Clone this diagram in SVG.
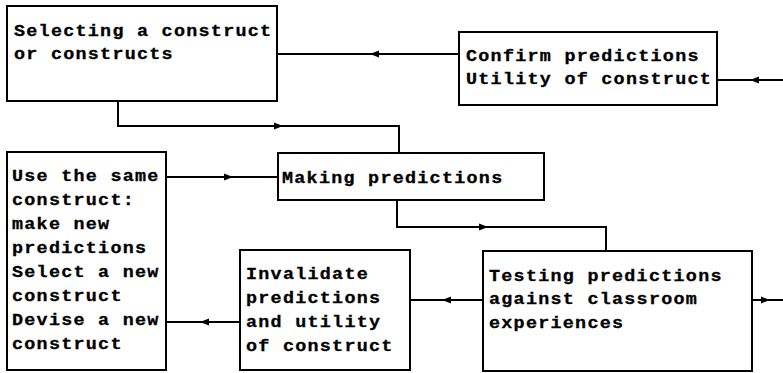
<svg xmlns="http://www.w3.org/2000/svg" width="783" height="373" viewBox="0 0 783 373">
<defs>
<style>
.box{fill:#fff;stroke:#000;stroke-width:2}
.ln{fill:none;stroke:#000;stroke-width:2}
.t{font-family:"Liberation Mono","DejaVu Sans Mono",monospace;font-weight:bold;font-size:16px;letter-spacing:1.1px;fill:#000;stroke:#000;stroke-width:0.3}
</style>
<marker id="arr" viewBox="0 0 9 8" refX="9" refY="4" markerWidth="9" markerHeight="8" markerUnits="userSpaceOnUse" orient="auto">
<path d="M0,0.5 L9,4 L0,7.5 z" fill="#000"/>
</marker>
</defs>
<rect width="783" height="373" fill="#fff"/>
<g id="connectors">
<path class="ln" d="M459,54 L370,54" marker-end="url(#arr)"/>
<path class="ln" d="M370,54 L277,54"/>
<path class="ln" d="M783,80 L750,80" marker-end="url(#arr)"/>
<path class="ln" d="M750,80 L717,80"/>
<path class="ln" d="M118,101 L118,126 L283,126" marker-end="url(#arr)"/>
<path class="ln" d="M283,126 L399,126 L399,153"/>
<path class="ln" d="M397,200 L397,227 L488,227" marker-end="url(#arr)"/>
<path class="ln" d="M488,227 L606,227 L606,251"/>
<path class="ln" d="M166,177 L233,177" marker-end="url(#arr)"/>
<path class="ln" d="M233,177 L278,177"/>
<path class="ln" d="M483,300 L442,300" marker-end="url(#arr)"/>
<path class="ln" d="M442,300 L410,300"/>
<path class="ln" d="M240,322 L200,322" marker-end="url(#arr)"/>
<path class="ln" d="M200,322 L166,322"/>
<path class="ln" d="M752,300 L770,300" marker-end="url(#arr)"/>
<path class="ln" d="M770,300 L783,300"/>
</g>
<g id="selecting">
<rect class="box" x="7" y="6" width="270" height="95"/>
<text class="t" transform="translate(14,36) scale(1.15,1)"><tspan x="0" y="0">Selecting a construct</tspan><tspan x="0" y="23">or constructs</tspan></text>
</g>
<g id="confirm">
<rect class="box" x="459" y="32" width="258" height="73"/>
<text class="t" transform="translate(466,61) scale(1.15,1)"><tspan x="0" y="0">Confirm predictions</tspan><tspan x="0" y="23">Utility of construct</tspan></text>
</g>
<g id="making">
<rect class="box" x="278" y="153" width="266" height="47"/>
<text class="t" transform="translate(282,183) scale(1.15,1)">Making predictions</text>
</g>
<g id="use">
<rect class="box" x="7" y="152" width="159" height="218"/>
<text class="t" transform="translate(12,181) scale(1.15,1)"><tspan x="0" y="0">Use the same</tspan><tspan x="0" y="24">construct:</tspan><tspan x="0" y="48">make new</tspan><tspan x="0" y="72">predictions</tspan><tspan x="0" y="96">Select a new</tspan><tspan x="0" y="120">construct</tspan><tspan x="0" y="144">Devise a new</tspan><tspan x="0" y="168">construct</tspan></text>
</g>
<g id="invalidate">
<rect class="box" x="240" y="250" width="170" height="120"/>
<text class="t" transform="translate(246,279) scale(1.15,1)"><tspan x="0" y="0">Invalidate</tspan><tspan x="0" y="24">predictions</tspan><tspan x="0" y="48">and utility</tspan><tspan x="0" y="72">of construct</tspan></text>
</g>
<g id="testing">
<rect class="box" x="483" y="251" width="269" height="120"/>
<text class="t" transform="translate(489,281) scale(1.15,1)"><tspan x="0" y="0">Testing predictions</tspan><tspan x="0" y="23.5">against classroom</tspan><tspan x="0" y="47">experiences</tspan></text>
</g>
</svg>
